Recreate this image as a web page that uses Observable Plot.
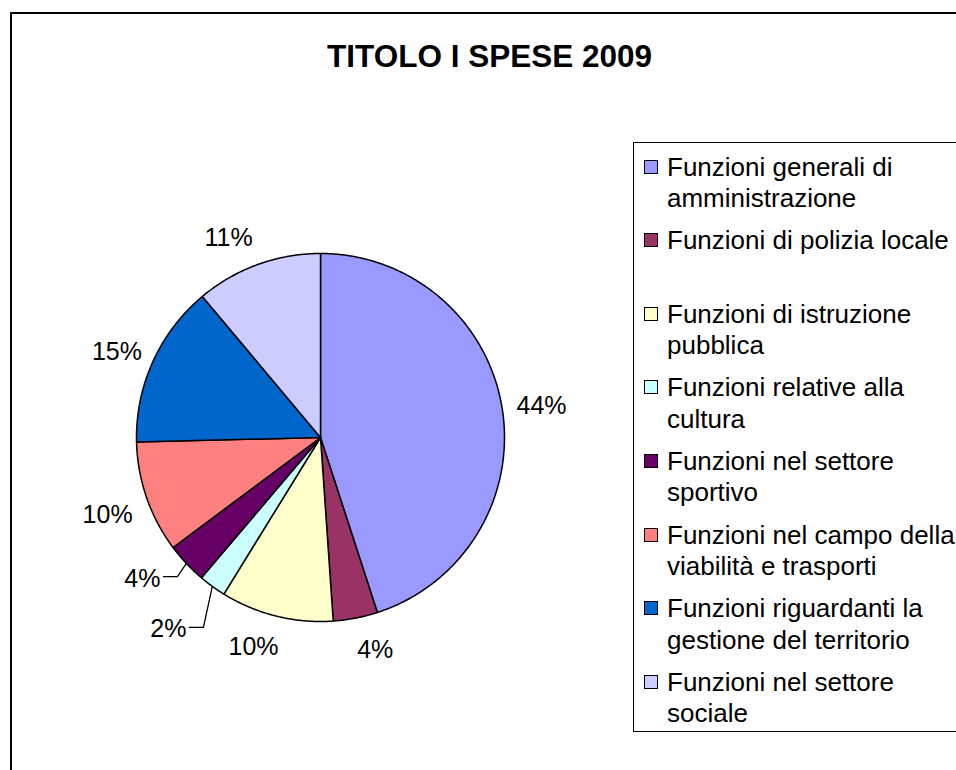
<!DOCTYPE html>
<html>
<head>
<meta charset="utf-8">
<script src="https://cdn.jsdelivr.net/npm/d3@7"></script>
<script src="https://cdn.jsdelivr.net/npm/@observablehq/plot@0.6"></script>
<style>
  html, body { margin: 0; padding: 0; background: #fff; }
  body { width: 956px; height: 770px; overflow: hidden; position: relative;
         font-family: "Liberation Sans", Arial, sans-serif; color: #000; }
  #frame { position: absolute; left: 10px; top: 12px; width: 1000px; height: 800px; border: 2px solid #000; }
  #chart { position: absolute; left: 0; top: 0; }
  #title { position: absolute; left: 0; width: 979px; top: 41px; text-align: center;
           font-size: 31.5px; font-weight: bold; line-height: 31px; white-space: nowrap; }
  #legend { position: absolute; left: 633px; top: 142px; width: 400px; height: 588px;
            border: 1.5px solid #000; }
  .entry { position: absolute; left: 0; font-size: 26px; line-height: 31.5px; white-space: nowrap; }
  .sw { position: absolute; left: 10px; top: 8px; width: 12px; height: 12px; border: 1.5px solid #000; }
  .txt { position: absolute; left: 33px; top: 0; }
</style>
</head>
<body>
<div id="frame"></div>
<div id="chart"></div>
<div id="title">TITOLO I SPESE 2009</div>
<div id="legend"></div>
<script>
// ---- data ----
const categories = [
  "Funzioni generali di\namministrazione",
  "Funzioni di polizia locale\n",
  "Funzioni di istruzione\npubblica",
  "Funzioni relative alla\ncultura",
  "Funzioni nel settore\nsportivo",
  "Funzioni nel campo della\nviabilità e trasporti",
  "Funzioni riguardanti la\ngestione del territorio",
  "Funzioni nel settore\nsociale"
];
const values = [45.0, 3.9, 9.9, 2.4, 3.6, 9.8, 14.3, 11.1];
const labels = ["44%", "4%", "10%", "2%", "4%", "10%", "15%", "11%"];
const colors = ["#9999FF", "#993366", "#FFFFCC", "#CCFFFF", "#660066", "#FF8080", "#0066CC", "#CCCCFF"];

// ---- layout ----
const cx = 320, cy = 437, R = 184;
// label placement relative to each slice's mid-angle: [angle shift in degrees, radius factor]
const labelShift = [[1, 1.213], [-3.5, 1.19], [3.9, 1.193], [2.4, 1.331], [4.8, 1.235], [-0.9, 1.231], [-1.4, 1.201], [-4.7, 1.196]];
const withLeader = [3, 4];

const total = d3.sum(values);
const toRad = Math.PI / 180;
let acc = 0;
const slices = values.map((v, i) => {
  const a0 = acc / total * 360; acc += v;
  const a1 = acc / total * 360;
  return { i, name: categories[i], color: colors[i], a0, a1, mid: (a0 + a1) / 2 };
});
const polar = (deg, r) => ({ x: r * Math.sin(deg * toRad), y: r * Math.cos(deg * toRad) });

// slice polygons
const slicePts = [];
for (const s of slices) {
  slicePts.push({ k: s.i, color: s.color, x: 0, y: 0 });
  const n = Math.max(2, Math.ceil((s.a1 - s.a0) / 0.5));
  for (let j = 0; j <= n; j++) {
    const p = polar(s.a0 + (s.a1 - s.a0) * j / n, 1);
    slicePts.push({ k: s.i, color: s.color, ...p });
  }
  slicePts.push({ k: s.i, color: s.color, x: 0, y: 0 });
}

// labels
const labelData = slices.map(s => {
  const [da, rr] = labelShift[s.i];
  return { ...polar(s.mid + da, rr), text: labels[s.i], i: s.i };
});

// leader lines
const leaderPts = [];
for (const i of withLeader) {
  const lp = labelData[i];
  const start = { x: lp.x + 21 / R, y: lp.y + 2 / R };
  const elbow = { x: lp.x + 35 / R, y: lp.y + 2 / R };
  const end = polar(slices[i].mid, 1);
  leaderPts.push({ k: i, ...start }, { k: i, ...elbow }, { k: i, ...end });
}

const plot = Plot.plot({
  width: 956,
  height: 770,
  margin: 0,
  x: { domain: [-1, 1], range: [cx - R, cx + R], axis: null },
  y: { domain: [1, -1], range: [cy - R, cy + R], axis: null },
  color: { type: "identity" },
  style: { background: "transparent", overflow: "visible" },
  marks: [
    Plot.line(slicePts, { x: "x", y: "y", z: "k", fill: "color", stroke: "#000", strokeWidth: 1.5, strokeLinejoin: "round", curve: "linear" }),
    Plot.line(leaderPts, { x: "x", y: "y", z: "k", stroke: "#000", strokeWidth: 1.3 }),
    Plot.text(labelData, { x: "x", y: "y", text: "text", fontSize: 25, fontFamily: "Liberation Sans, Arial, sans-serif", fill: "#000", textAnchor: "middle" })
  ]
});
document.getElementById("chart").appendChild(plot);

// legend
const legend = document.getElementById("legend");
categories.forEach((c, i) => {
  const e = document.createElement("div");
  e.className = "entry";
  e.style.top = (152 - 142 - 1.5 + i * 73.6) + "px";
  const sw = document.createElement("div");
  sw.className = "sw";
  sw.style.background = colors[i];
  const t = document.createElement("div");
  t.className = "txt";
  t.innerHTML = c.split("\n").map(s => s || "&nbsp;").join("<br>");
  e.appendChild(sw); e.appendChild(t);
  legend.appendChild(e);
});
</script>
</body>
</html>
